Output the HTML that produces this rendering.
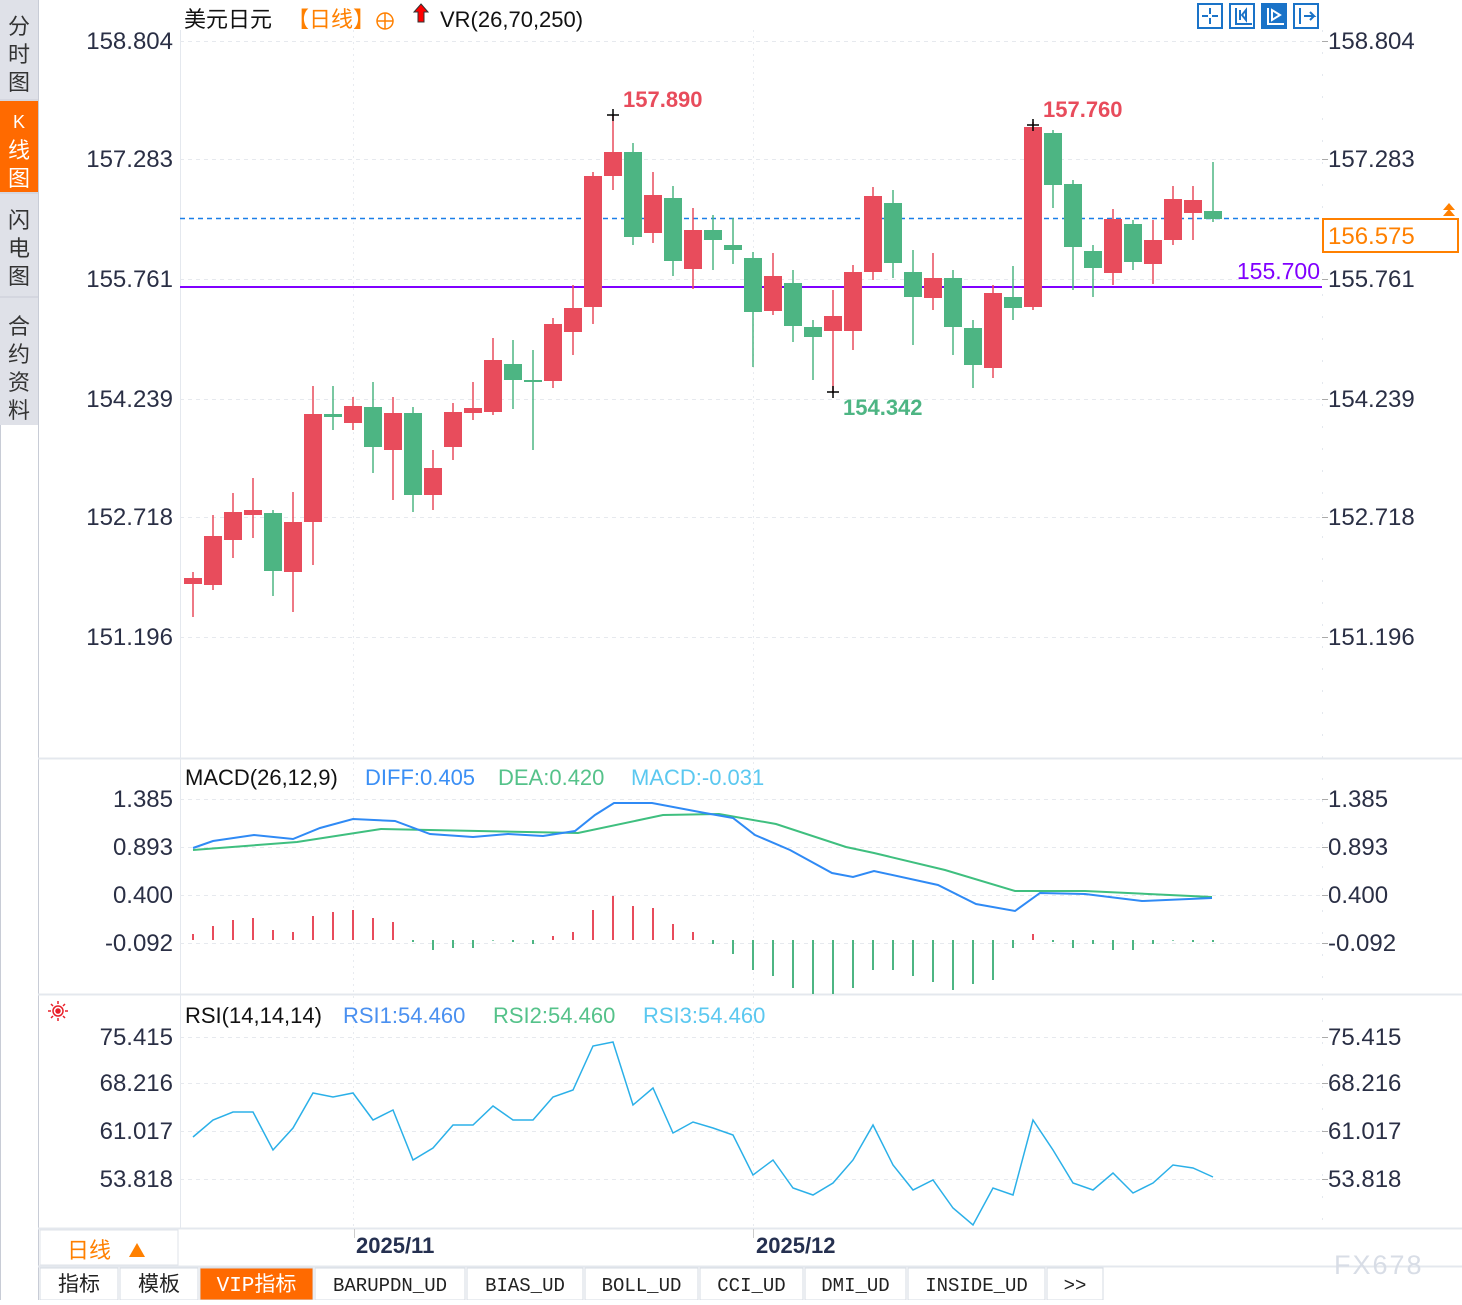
<!DOCTYPE html>
<html><head><meta charset="utf-8">
<style>
body{margin:0;width:1462px;height:1300px;background:#fff;overflow:hidden;font-family:"Liberation Sans","Noto Sans CJK SC",sans-serif;}
svg text{font-family:"Liberation Sans","Noto Sans CJK SC",sans-serif;}
#tabs text{font-family:"Liberation Mono","Noto Sans CJK SC",monospace;}
</style></head>
<body>
<svg id="s" width="1462" height="1300" xmlns="http://www.w3.org/2000/svg">
<rect x="0" y="0" width="38" height="425" fill="#dfe1e8"/>
<rect x="0" y="101" width="38" height="91" fill="#ff6a00"/>
<line x1="0" y1="100" x2="38" y2="100" stroke="#c8ccd6"/>
<line x1="0" y1="193" x2="38" y2="193" stroke="#c8ccd6"/>
<line x1="0" y1="297" x2="38" y2="297" stroke="#c8ccd6"/>
<line x1="38.5" y1="0" x2="38.5" y2="1300" stroke="#c8ccd6"/>
<line x1="0.5" y1="425" x2="0.5" y2="1300" stroke="#c8ccd6"/>
<g font-size="22" fill="#333" text-anchor="middle">
<text x="19" y="34">分</text><text x="19" y="62">时</text><text x="19" y="90">图</text>
<text x="19" y="128" fill="#fff" font-size="18">K</text><text x="19" y="158" fill="#fff">线</text><text x="19" y="186" fill="#fff">图</text>
<text x="19" y="228">闪</text><text x="19" y="256">电</text><text x="19" y="284">图</text>
<text x="19" y="334">合</text><text x="19" y="362">约</text><text x="19" y="390">资</text><text x="19" y="418">料</text>
</g>
<line x1="180.5" y1="30" x2="180.5" y2="1228" stroke="#e4e8ee"/>
<line x1="1322.5" y1="30" x2="1322.5" y2="1228" stroke="#e4e8ee" stroke-dasharray="2,20"/>
<line x1="38" y1="758.5" x2="1462" y2="758.5" stroke="#e4e8ee" stroke-width="2"/>
<line x1="38" y1="994.5" x2="1462" y2="994.5" stroke="#e4e8ee" stroke-width="2"/>
<line x1="38" y1="1228.5" x2="1462" y2="1228.5" stroke="#e4e8ee" stroke-width="2"/>
<line x1="38" y1="1266.5" x2="1462" y2="1266.5" stroke="#e4e8ee" stroke-width="2"/>
<line x1="353.5" y1="30" x2="353.5" y2="1228" stroke="#e8ebf0" stroke-dasharray="2,4"/>
<line x1="753.5" y1="30" x2="753.5" y2="1228" stroke="#e8ebf0" stroke-dasharray="2,4"/>
<g id="grid" stroke="#e6e9ee" stroke-dasharray="4,4"></g>
<g id="lbl" font-size="24" fill="#2a2f45"></g>
<text x="184" y="27" font-size="22" fill="#111">美元日元</text>
<text x="287" y="27" font-size="22" fill="#ff8000">【日线】</text>
<circle cx="385" cy="21" r="8" fill="none" stroke="#ff8000" stroke-width="1.5"/>
<line x1="377" y1="21" x2="393" y2="21" stroke="#ff8000" stroke-width="1.5"/><line x1="385" y1="13" x2="385" y2="29" stroke="#ff8000" stroke-width="1.5"/>
<path d="M421 4 L428 12 L424 12 L424 22 L418 22 L418 12 L414 12 Z" fill="#f00" stroke="#333" stroke-width="1"/>
<text x="440" y="27" font-size="22" fill="#111">VR(26,70,250)</text>
<g stroke="#1a73c8" stroke-width="2" fill="none">
<rect x="1198" y="4" width="24" height="24"/><rect x="1230" y="4" width="24" height="24"/><rect x="1262" y="4" width="24" height="24" fill="#1a73c8"/><rect x="1294" y="4" width="24" height="24"/>
<path d="M1210 8v6M1210 18v6M1202 16h6M1212 16h6"/>
<path d="M1236 8v16h16M1240 10v10M1246 10v10l-4-5z"/>
<path d="M1268 8v16h16M1272 10v10l8-5z" stroke="#fff"/>
<path d="M1300 8v16M1304 16h10l-4-4M1314 16l-4 4"/>
</g>
<line x1="180" y1="218.5" x2="1322" y2="218.5" stroke="#1a7fe8" stroke-width="1.5" stroke-dasharray="5,4"/>
<line x1="180" y1="287" x2="1322" y2="287" stroke="#8000ff" stroke-width="2"/>
<text x="1320" y="279" font-size="23" fill="#8000ff" text-anchor="end">155.700</text>
<rect x="1323" y="219" width="135" height="33" fill="#fff" stroke="#ff8000" stroke-width="2"/>
<text x="1328" y="244" font-size="24" fill="#ff8000">156.575</text>
<path d="M1443 210l6-7 6 7zM1443 216l6-7 6 7z" fill="#ff8000"/>
<g id="candles"></g>
<g id="ann" font-size="22" font-weight="bold"></g>
<text x="185" y="785" font-size="22" fill="#111">MACD(26,12,9)</text>
<text x="365" y="785" font-size="22" fill="#3b8ff5">DIFF:0.405</text>
<text x="498" y="785" font-size="22" fill="#55c28a">DEA:0.420</text>
<text x="631" y="785" font-size="22" fill="#5bc8f0">MACD:-0.031</text>
<g id="macd"></g>
<g transform="translate(58,1011)" stroke="#e8202a" fill="none" stroke-width="1.5"><circle r="5"/><circle r="2" fill="#e8202a"/><path d="M-10 0h3M7 0h3M0-10v3M0 7v3M-7-7l2 2M5 5l2 2M-7 7l2-2M5-5l2-2"/></g>
<text x="185" y="1023" font-size="22" fill="#111">RSI(14,14,14)</text>
<text x="343" y="1023" font-size="22" fill="#4a90f0">RSI1:54.460</text>
<text x="493" y="1023" font-size="22" fill="#55c28a">RSI2:54.460</text>
<text x="643" y="1023" font-size="22" fill="#5bc8f0">RSI3:54.460</text>
<g id="rsi"></g>
<rect x="40" y="1230" width="138" height="35" fill="#fff" stroke="#dfe3ea"/>
<text x="67" y="1258" font-size="22" fill="#ff8000">日线</text>
<path d="M129 1257l8-14 8 14z" fill="#ff8000"/>
<line x1="354.5" y1="1229" x2="354.5" y2="1238" stroke="#ccc"/>
<line x1="753.5" y1="1229" x2="753.5" y2="1238" stroke="#ccc"/>
<text x="356" y="1253" font-size="22" font-weight="bold" fill="#253050">2025/11</text>
<text x="756" y="1253" font-size="22" font-weight="bold" fill="#253050">2025/12</text>
<text x="1334" y="1274" font-size="27" fill="#d8dde6" letter-spacing="2">FX678</text>
<g id="tabs" font-size="19" fill="#222"></g>
</svg>
<script>
const NS="http://www.w3.org/2000/svg";
function el(p,t,a,txt){const e=document.createElementNS(NS,t);for(const k in a)e.setAttribute(k,a[k]);if(txt!==undefined)e.textContent=txt;document.getElementById(p).appendChild(e);return e;}
const R="#e84c5c",G="#4db583";
const price=[["158.804",41],["157.283",159],["155.761",279],["154.239",399],["152.718",517],["151.196",637]];
const macd=[["1.385",799],["0.893",847],["0.400",895],["-0.092",943]];
const rsi=[["75.415",1037],["68.216",1083],["61.017",1131],["53.818",1179]];
for(const [t,y] of [...price,...macd,...rsi]){
 el("grid","line",{x1:180,x2:1322,y1:y+0.5,y2:y+0.5});
 el("lbl","text",{x:173,y:y+8,"text-anchor":"end"},t);
 el("lbl","text",{x:1328,y:y+8},t);
 el("grid","line",{x1:1322,x2:1328,y1:y+0.5,y2:y+0.5,stroke:"#aaa","stroke-dasharray":"none"});
}
const C=[[578,584,572,617,R],[585,536,515,590,R],[540,512,493,558,R],[515,510,478,538,R],[513,571,510,596,G],[572,522,492,612,R],[522,414,386,565,R],[414,417,386,430,G],[423,406,397,430,R],[407,447,382,473,G],[450,413,397,500,R],[413,495,407,512,G],[495,468,450,510,R],[447,412,403,460,R],[413,408,382,420,R],[412,360,338,415,R],[364,380,340,409,G],[380,382,350,450,G],[381,324,318,388,R],[332,308,285,355,R],[307,176,172,324,R],[176,152,115,190,R],[152,237,143,245,G],[233,195,172,243,R],[198,261,186,276,G],[269,230,208,289,R],[230,240,215,270,G],[245,250,218,264,G],[258,312,252,367,G],[311,276,253,315,R],[283,326,270,342,G],[327,337,320,380,G],[331,316,290,393,R],[331,272,265,350,R],[272,196,187,280,R],[203,263,190,278,G],[272,297,250,345,G],[298,278,253,310,R],[278,327,270,355,G],[328,365,320,388,G],[368,293,285,378,R],[297,308,266,320,G],[307,127,122,310,R],[133,185,130,208,G],[184,247,180,290,G],[251,268,245,297,G],[273,219,209,285,R],[224,262,220,270,G],[264,240,220,284,R],[240,199,186,245,R],[213,200,186,240,R],[211,219,162,222,G]];
C.forEach((c,i)=>{const x=193+20*i;const t=Math.min(c[0],c[1]),b=Math.max(c[0],c[1]);
 el("candles","line",{x1:x,x2:x,y1:c[2],y2:c[3],stroke:c[4],"stroke-width":1.5});
 el("candles","rect",{x:x-9,y:t,width:18,height:Math.max(2,b-t),fill:c[4]});});
el("ann","text",{x:623,y:107,fill:R},"157.890");
el("ann","text",{x:1043,y:117,fill:R},"157.760");
el("ann","text",{x:843,y:415,fill:"#4db583"},"154.342");
for(const [x,y] of [[613,115],[1033,125],[833,392]]){el("ann","path",{d:`M${x-6} ${y}h12M${x} ${y-6}v12`,stroke:"#000","stroke-width":1.5});}
const H=[522,498,480,474,510,516,468,456,450,474,486,546,570,564,564,542,546,552,528,516,450,408,438,444,492,516,552,582,630,648,684,702,702,684,630,630,648,666,690,672,660,564,522,546,564,552,570,570,552,542,546,546];
H.forEach((v,i)=>{const x=193+20*i;const y=760+v/3;el("macd","line",{x1:x,x2:x,y1:940,y2:y,stroke:v<540?R:G,"stroke-width":2});});
el("macd","polyline",{points:"193,850 297,842 381,829 578,833 663,815 719,814 776,824 846,847 874,853 945,870 1015,891 1085,891 1212,897",fill:"none",stroke:"#3fbf7f","stroke-width":2});
el("macd","polyline",{points:"193,848 213,841 254,835 293,839 320,828 353,819 395,821 430,834 473,837 508,834 543,836 575,831 595,815 614,803 652,803 705,813 733,818 755,835 790,850 832,873 853,877 874,871 938,885 976,904 1015,911 1040,893 1085,894 1142,901 1212,898",fill:"none",stroke:"#2f8af5","stroke-width":2});
const RS=[1137,1120,1112,1112,1150,1128,1093,1097,1093,1120,1110,1160,1148,1125,1125,1106,1120,1120,1097,1090,1046,1042,1105,1088,1133,1122,1128,1135,1175,1160,1188,1195,1183,1160,1125,1165,1190,1180,1208,1225,1188,1195,1120,1150,1183,1190,1173,1193,1183,1165,1168,1177];
el("rsi","polyline",{points:RS.map((y,i)=>(193+20*i)+","+y).join(" "),fill:"none",stroke:"#2bb0e8","stroke-width":1.5});
const T=[["指标",40,118],["模板",120,198],["VIP指标",200,313],["BARUPDN_UD",315,465],["BIAS_UD",467,583],["BOLL_UD",585,698],["CCI_UD",700,803],["DMI_UD",805,906],["INSIDE_UD",908,1045],[">>",1047,1103]];
T.forEach(([t,a,b],i)=>{el("tabs","rect",{x:a,y:1268,width:b-a,height:32,fill:i==2?"#ff6a00":"#fff",stroke:"#d6dbe3"});
 el("tabs","text",{x:(a+b)/2,y:1291,"text-anchor":"middle",fill:i==2?"#fff":"#222","font-size":i<3?21:19},t);});
</script>
</body></html>
